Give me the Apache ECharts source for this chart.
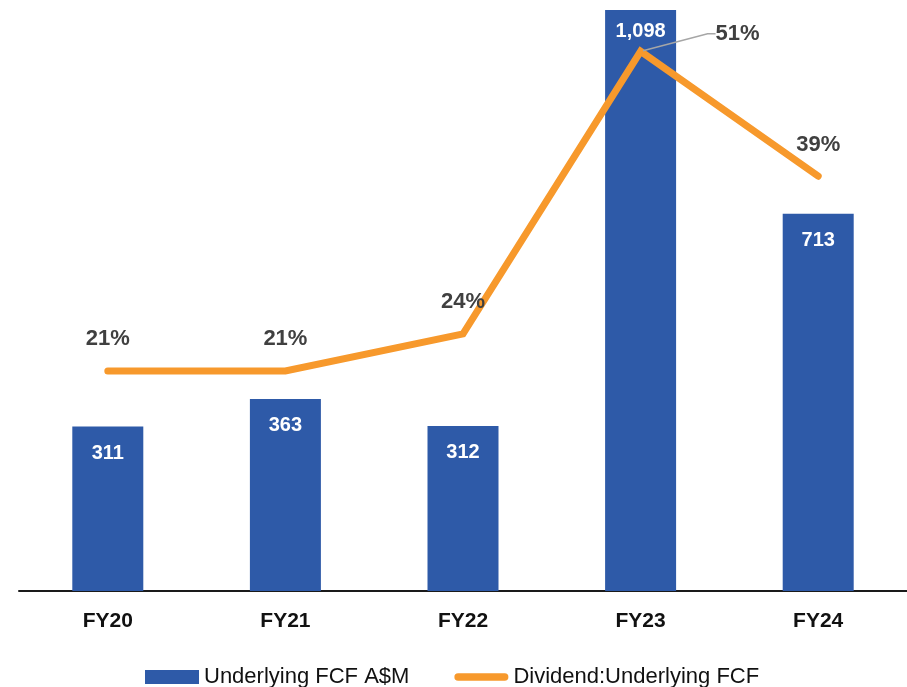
<!DOCTYPE html>
<html>
<head>
<meta charset="utf-8">
<script src="https://cdn.jsdelivr.net/npm/echarts@6/dist/echarts.min.js"></script>
<style>
  html, body { margin: 0; padding: 0; background: #fff; }
  #chart { width: 907px; height: 687px; }
</style>
</head>
<body>
<div id="chart"></div>
<script>
var years = ['FY20', 'FY21', 'FY22', 'FY23', 'FY24'];
var fcf = [311, 363, 312, 1098, 713];           // Underlying FCF A$M
var payout = [20.8, 20.8, 24.3, 51.0, 39.2];    // Dividend:Underlying FCF (%)

var blue = '#2E5AA8';
var orange = '#F7992C';

var dom = document.getElementById('chart');
var myChart = echarts.init(dom);

// only the FY23 label gets pulled out to the side with a leader line
var payoutData = payout.map(function (v, i) {
    return i === 3 ? { value: v, labelLine: { show: true } } : v;
});

var option = {
    animation: false,
    grid: { left: 19, width: 893, top: 9, bottom: 96 },
    legend: {
        left: 140,
        top: 661,
        itemWidth: 54,
        itemHeight: 14,
        itemGap: 45,
        textStyle: { fontFamily: 'Liberation Sans', fontSize: 22, color: '#111' },
        data: [
            { name: 'Underlying FCF A$M', icon: 'rect', itemStyle: { color: blue } },
            {
                name: 'Dividend:Underlying FCF',
                icon: 'path://M4,0 H54 A4,4 0 0 1 54,8 H4 A4,4 0 0 1 4,0 Z',
                itemStyle: { color: orange }
            }
        ]
    },
    xAxis: {
        type: 'category',
        data: years,
        axisTick: { show: false },
        axisLine: { lineStyle: { color: '#1a1a1a', width: 2 } },
        axisLabel: {
            margin: 20,
            fontFamily: 'Liberation Sans',
            fontWeight: 'bold',
            fontSize: 21,
            color: '#111'
        }
    },
    yAxis: [
        { type: 'value', min: 0, max: 1100, show: false },
        { type: 'value', min: 0, max: 55, show: false }
    ],
    series: [
        {
            name: 'Underlying FCF A$M',
            type: 'bar',
            data: fcf,
            barWidth: 71,
            itemStyle: { color: blue },
            label: {
                show: true,
                position: 'insideTop',
                distance: 17,
                color: '#fff',
                fontFamily: 'Liberation Sans',
                fontWeight: 'bold',
                fontSize: 20,
                formatter: function (p) { return p.value.toLocaleString('en-US'); }
            },
            labelLayout: function (p) {
                return p.dataIndex === 3 ? { dy: -6 } : {};
            }
        },
        {
            name: 'Dividend:Underlying FCF',
            type: 'line',
            yAxisIndex: 1,
            data: payoutData,
            symbol: 'circle',
            symbolSize: 5,
            itemStyle: { color: orange },
            lineStyle: { color: orange, width: 7, cap: 'round', join: 'miter' },
            label: {
                show: true,
                position: 'top',
                distance: 18,
                color: '#404040',
                fontFamily: 'Liberation Sans',
                fontWeight: 'bold',
                fontSize: 22,
                formatter: function (p) { return Math.round(p.value) + '%'; }
            },
            labelLine: {
                show: false,
                length2: 8,
                lineStyle: { color: '#A6A6A6', width: 1.5 }
            },
            labelLayout: function (p) {
                return p.dataIndex === 3 ? { dx: 97, dy: 14 } : {};
            }
        }
    ]
};

if (option && typeof option === 'object') {
    myChart.setOption(option, true);
}
</script>
</body>
</html>
